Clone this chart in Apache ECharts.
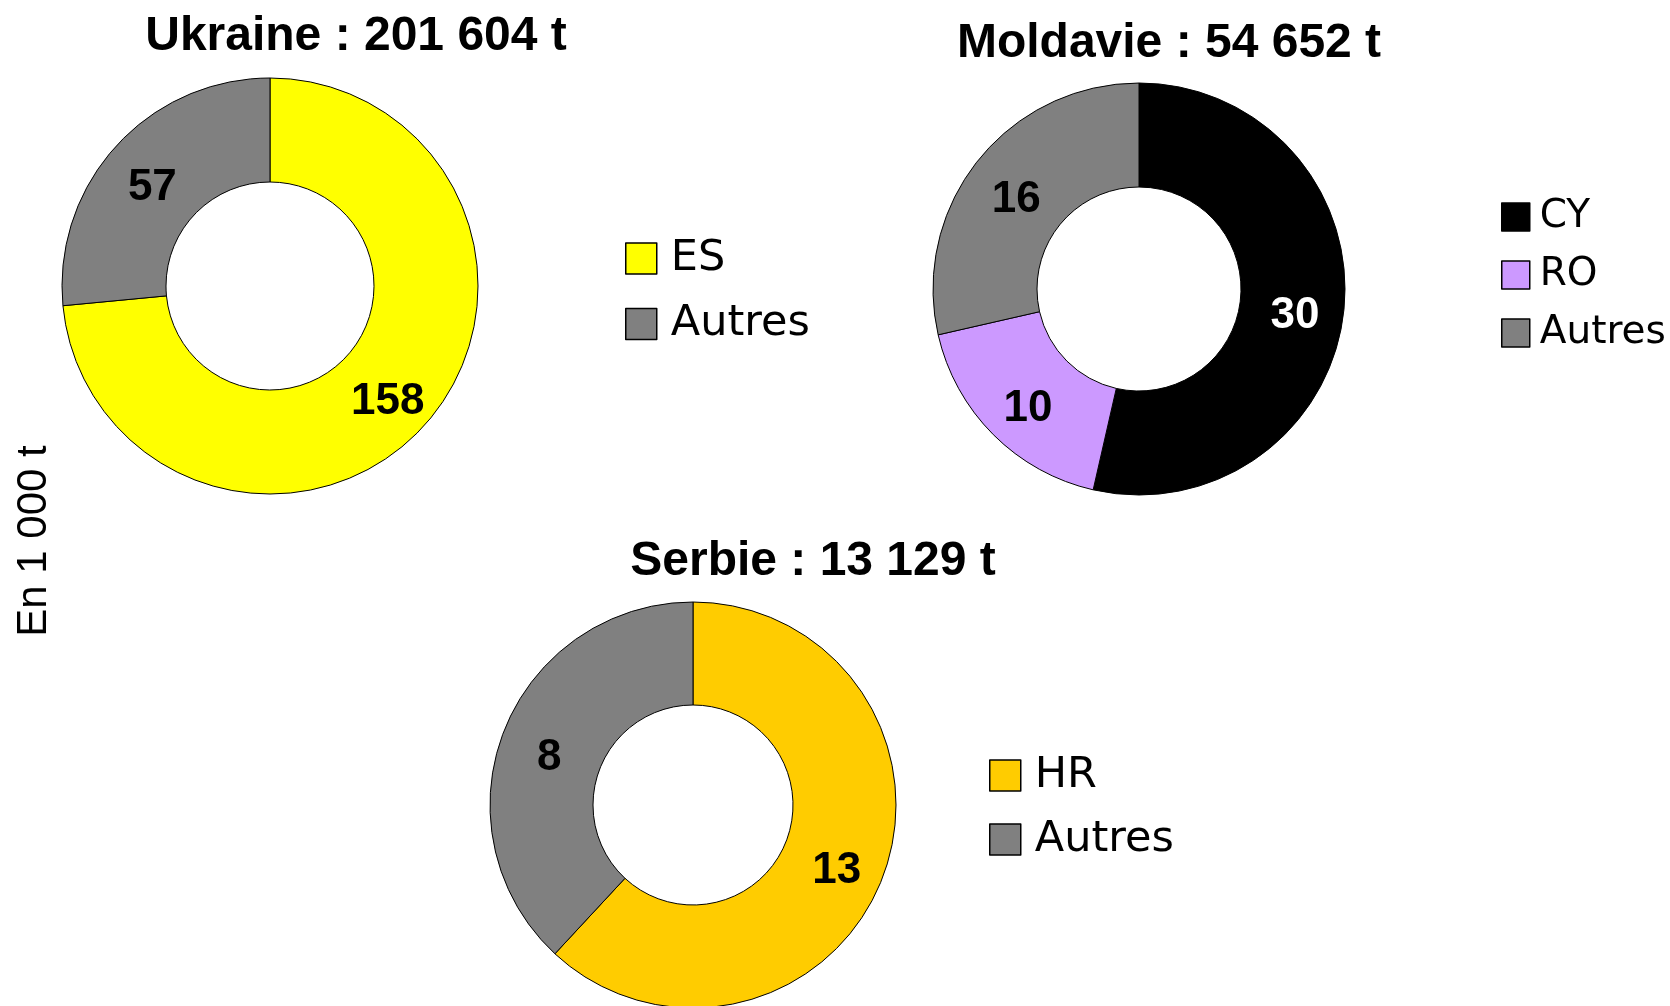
<!DOCTYPE html>
<html>
<head>
<meta charset="utf-8">
<title>Exportations par destination</title>
<script src="https://cdn.jsdelivr.net/npm/echarts@6/dist/echarts.min.js"></script>
<style>
  html, body { margin: 0; padding: 0; background: #ffffff; }
  #chart { width: 1670px; height: 1006px; }
</style>
</head>
<body>
<div id="chart"></div>
<script>
// Volumes par destination, en milliers de tonnes
const ukraineTitle = 'Ukraine : 201 604 t';
const ukraineCats = ['ES', 'Autres'];
const ukraineVals = [158, 57];

const moldavieTitle = 'Moldavie : 54 652 t';
const moldavieCats = ['CY', 'RO', 'Autres'];
const moldavieVals = [30, 10, 16];

const serbieTitle = 'Serbie : 13 129 t';
const serbieCats = ['HR', 'Autres'];
const serbieVals = [13, 8];

const unitLabel = 'En 1 000 t';

// Couleurs par destination
const palette = {
  ES: '#FFFF00',
  CY: '#000000',
  RO: '#CC99FF',
  HR: '#FFCC00',
  Autres: '#808080'
};
const labelColors = { CY: '#FFFFFF' };

const boldFont = '"Liberation Sans", Arial, sans-serif';
const legendFont = '"DejaVu Sans", Verdana, sans-serif';

function buildData(cats, vals) {
  return cats.map((c, i) => ({
    name: c,
    value: vals[i],
    itemStyle: { color: palette[c] },
    label: { color: labelColors[c] || '#000000' }
  }));
}

function donut(id, cats, vals, center, radius) {
  return {
    type: 'pie',
    id: id,
    center: center,
    radius: radius,
    startAngle: 90,
    clockwise: true,
    animation: false,
    silent: true,
    itemStyle: { borderColor: '#000000', borderWidth: 1 },
    label: {
      show: true,
      position: 'inside',
      formatter: '{c}',
      fontFamily: boldFont,
      fontWeight: 'bold',
      fontSize: 44
    },
    // value labels sit slightly below the ring's mid-line
    labelLayout: { dy: 9 },
    labelLine: { show: false },
    emphasis: { disabled: true },
    data: buildData(cats, vals)
  };
}

function legendBlock(names, left, top, size, gap, fontSize, pad) {
  return {
    data: names,
    orient: 'vertical',
    left: left,
    top: top,
    padding: 0,
    itemWidth: size,
    itemHeight: size,
    itemGap: gap,
    icon: 'rect',
    selectedMode: false,
    itemStyle: { borderColor: '#000000', borderWidth: 1.5 },
    formatter: name => '{t|' + name + '}',
    textStyle: {
      color: '#000000',
      fontFamily: legendFont,
      fontSize: fontSize,
      rich: {
        t: {
          fontFamily: legendFont,
          fontSize: fontSize,
          padding: [0, 0, 0, pad]
        }
      }
    }
  };
}

function titleBlock(text, cx, top) {
  return {
    text: text,
    left: cx,
    top: top,
    textAlign: 'center',
    padding: 0,
    textStyle: {
      fontFamily: boldFont,
      fontWeight: 'bold',
      fontSize: 48,
      color: '#000000'
    }
  };
}

const chart = echarts.init(document.getElementById('chart'), null, { renderer: 'canvas' });

chart.setOption({
  backgroundColor: '#ffffff',
  animation: false,
  title: [
    titleBlock(ukraineTitle, 356, 13),
    titleBlock(moldavieTitle, 1169, 20),
    titleBlock(serbieTitle, 813, 538)
  ],
  legend: [
    legendBlock(ukraineCats, 625, 237, 31, 22.5, 43, 9),
    legendBlock(moldavieCats, 1501, 197.5, 28, 19, 39, 5),
    legendBlock(serbieCats, 989, 754, 31, 21, 43, 9)
  ],
  graphic: [{
    type: 'text',
    x: 34,
    y: 541,
    rotation: Math.PI / 2,
    style: {
      text: unitLabel,
      fontFamily: '"Liberation Sans", Arial, sans-serif',
      fontSize: 42,
      fill: '#000000',
      align: 'center',
      verticalAlign: 'middle'
    }
  }],
  series: [
    donut('ukraine', ukraineCats, ukraineVals, [270, 286], [104, 208]),
    donut('moldavie', moldavieCats, moldavieVals, [1139, 289], [102, 206]),
    donut('serbie', serbieCats, serbieVals, [693, 805], [100, 203])
  ]
});
</script>
</body>
</html>
